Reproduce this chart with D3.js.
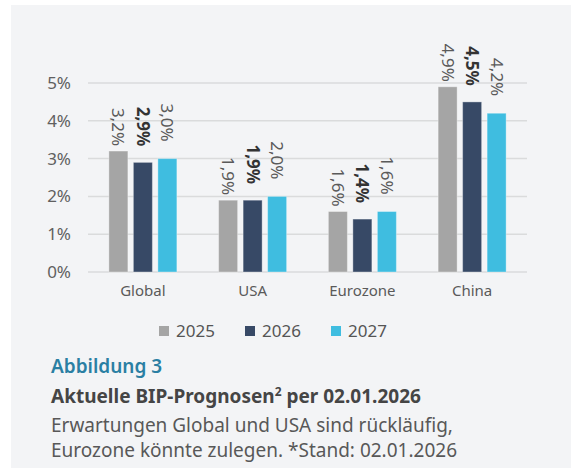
<!DOCTYPE html>
<html lang="de">
<head>
<meta charset="UTF-8">
<title>BIP-Prognosen</title>
<script src="https://d3js.org/d3.v7.min.js"></script>
<style>
  body { margin: 0; background: #ffffff; }
  svg { display: block; font-family: "Noto Sans", sans-serif; }
</style>
</head>
<body>
<script>

    var categories = ["Global", "USA", "Eurozone", "China"];
    var years = ["2025", "2026", "2027"];
    var values2025 = [3.2, 1.9, 1.6, 4.9];
    var values2026 = [2.9, 1.9, 1.4, 4.5];
    var values2027 = [3.0, 2.0, 1.6, 4.2];
    var yTicks = [0, 1, 2, 3, 4, 5];

    var colors = { "2025": "#a5a5a5", "2026": "#374966", "2027": "#3fbde0" };
    var labelGap = { "2025": 5, "2026": 16, "2027": 17 };

    var series = [values2025, values2026, values2027];

    var rows = categories.map(function (c, i) {
        return {
            category: c,
            bars: years.map(function (y, j) { return { year: y, value: series[j][i] }; })
        };
    });

    var fmt = function (v) { return d3.format(".1f")(v).replace(".", ",") + "%"; };

    var W = 571, H = 468;

    var svg = d3.select("body").append("svg")
        .attr("width", W)
        .attr("height", H);

    // panel background
    svg.append("rect")
        .attr("x", 11).attr("y", 5)
        .attr("width", W - 11).attr("height", H - 5)
        .attr("fill", "#f3f4f6");

    var x0 = d3.scaleBand().domain(categories).range([88, 527]).padding(0);
    var x1 = d3.scaleBand().domain(years).range([0, 68]).paddingInner(0.224);
    var y = d3.scaleLinear().domain([0, 5]).range([272, 83]);

    // gridlines
    svg.append("g").selectAll("line").data(yTicks).join("line")
        .attr("x1", 88).attr("x2", 527)
        .attr("y1", function (d) { return y(d); })
        .attr("y2", function (d) { return y(d); })
        .attr("stroke", "#dadbdc")
        .attr("stroke-width", 1.5);

    // y axis labels
    var yAxis = svg.append("g")
        .attr("transform", "translate(71,0)")
        .call(d3.axisLeft(y).tickValues(yTicks).tickSize(0).tickPadding(0)
            .tickFormat(function (d) { return d + "%"; }));
    yAxis.select(".domain").remove();
    yAxis.selectAll("text")
        .attr("font-family", "'Noto Sans', sans-serif")
        .attr("font-size", 17)
        .attr("fill", "#606060");

    // x axis labels
    var xAxis = svg.append("g")
        .attr("transform", "translate(0,285)")
        .call(d3.axisBottom(x0).tickSize(0).tickPadding(0));
    xAxis.select(".domain").remove();
    xAxis.selectAll("text")
        .attr("font-family", "'Noto Sans', sans-serif")
        .attr("font-size", 15)
        .attr("fill", "#5a5a5a");

    var groups = svg.append("g").selectAll("g").data(rows).join("g")
        .attr("transform", function (d) {
            return "translate(" + (x0(d.category) + (x0.bandwidth() - 68) / 2) + ",0)";
        });

    groups.selectAll("rect").data(function (d) { return d.bars; }).join("rect")
        .attr("x", function (d) { return x1(d.year); })
        .attr("y", function (d) { return y(d.value); })
        .attr("width", x1.bandwidth())
        .attr("height", function (d) { return y(0) - y(d.value); })
        .attr("fill", function (d) { return colors[d.year]; })
        .attr("stroke", "#ffffff")
        .attr("stroke-opacity", 0.35)
        .attr("stroke-width", 1);

    groups.selectAll("text.val").data(function (d) { return d.bars; }).join("text")
        .attr("class", "val")
        .attr("transform", function (d) {
            return "translate(" + (x1(d.year) + x1.bandwidth() / 2) + "," +
                (y(d.value) - labelGap[d.year]) + ") rotate(90)";
        })
        .attr("text-anchor", "end")
        .attr("dy", "0.35em")
        .attr("font-size", 17)
        .attr("font-weight", function (d) { return d.year === "2026" ? "bold" : "normal"; })
        .attr("fill", function (d) { return d.year === "2026" ? "#333333" : "#5a5a5a"; })
        .text(function (d) { return fmt(d.value); });

    // legend
    var legendX = [159, 245, 331];
    var legend = svg.append("g").selectAll("g").data(years).join("g")
        .attr("transform", function (d, i) { return "translate(" + legendX[i] + ",331)"; });
    legend.append("rect")
        .attr("x", 0).attr("y", -5)
        .attr("width", 10).attr("height", 10)
        .attr("fill", function (d) { return colors[d]; });
    legend.append("text")
        .attr("x", 17).attr("dy", "0.35em")
        .attr("font-size", 17)
        .attr("fill", "#555555")
        .text(function (d) { return d; });

    // caption
    svg.append("text")
        .attr("x", 51).attr("y", 373)
        .attr("font-size", 19)
        .attr("font-weight", 600)
        .attr("fill", "#2a7fa3")
        .text("Abbildung 3");

    var title = svg.append("text")
        .attr("x", 51).attr("y", 403)
        .attr("font-size", 19)
        .attr("font-weight", "bold")
        .attr("fill", "#454545");
    title.append("tspan").text("Aktuelle BIP-Prognosen");
    title.append("tspan").attr("dy", -7).attr("font-size", 12).text("2");
    title.append("tspan").attr("dy", 7).text(" per 02.01.2026");

    var lines = ["Erwartungen Global und USA sind rückläufig,",
        "Eurozone könnte zulegen. *Stand: 02.01.2026"];
    svg.append("g").selectAll("text").data(lines).join("text")
        .attr("x", 51)
        .attr("y", function (d, i) { return 432 + i * 25; })
        .attr("font-size", 19)
        .attr("fill", "#585858")
        .text(function (d) { return d; });

</script>
</body>
</html>
